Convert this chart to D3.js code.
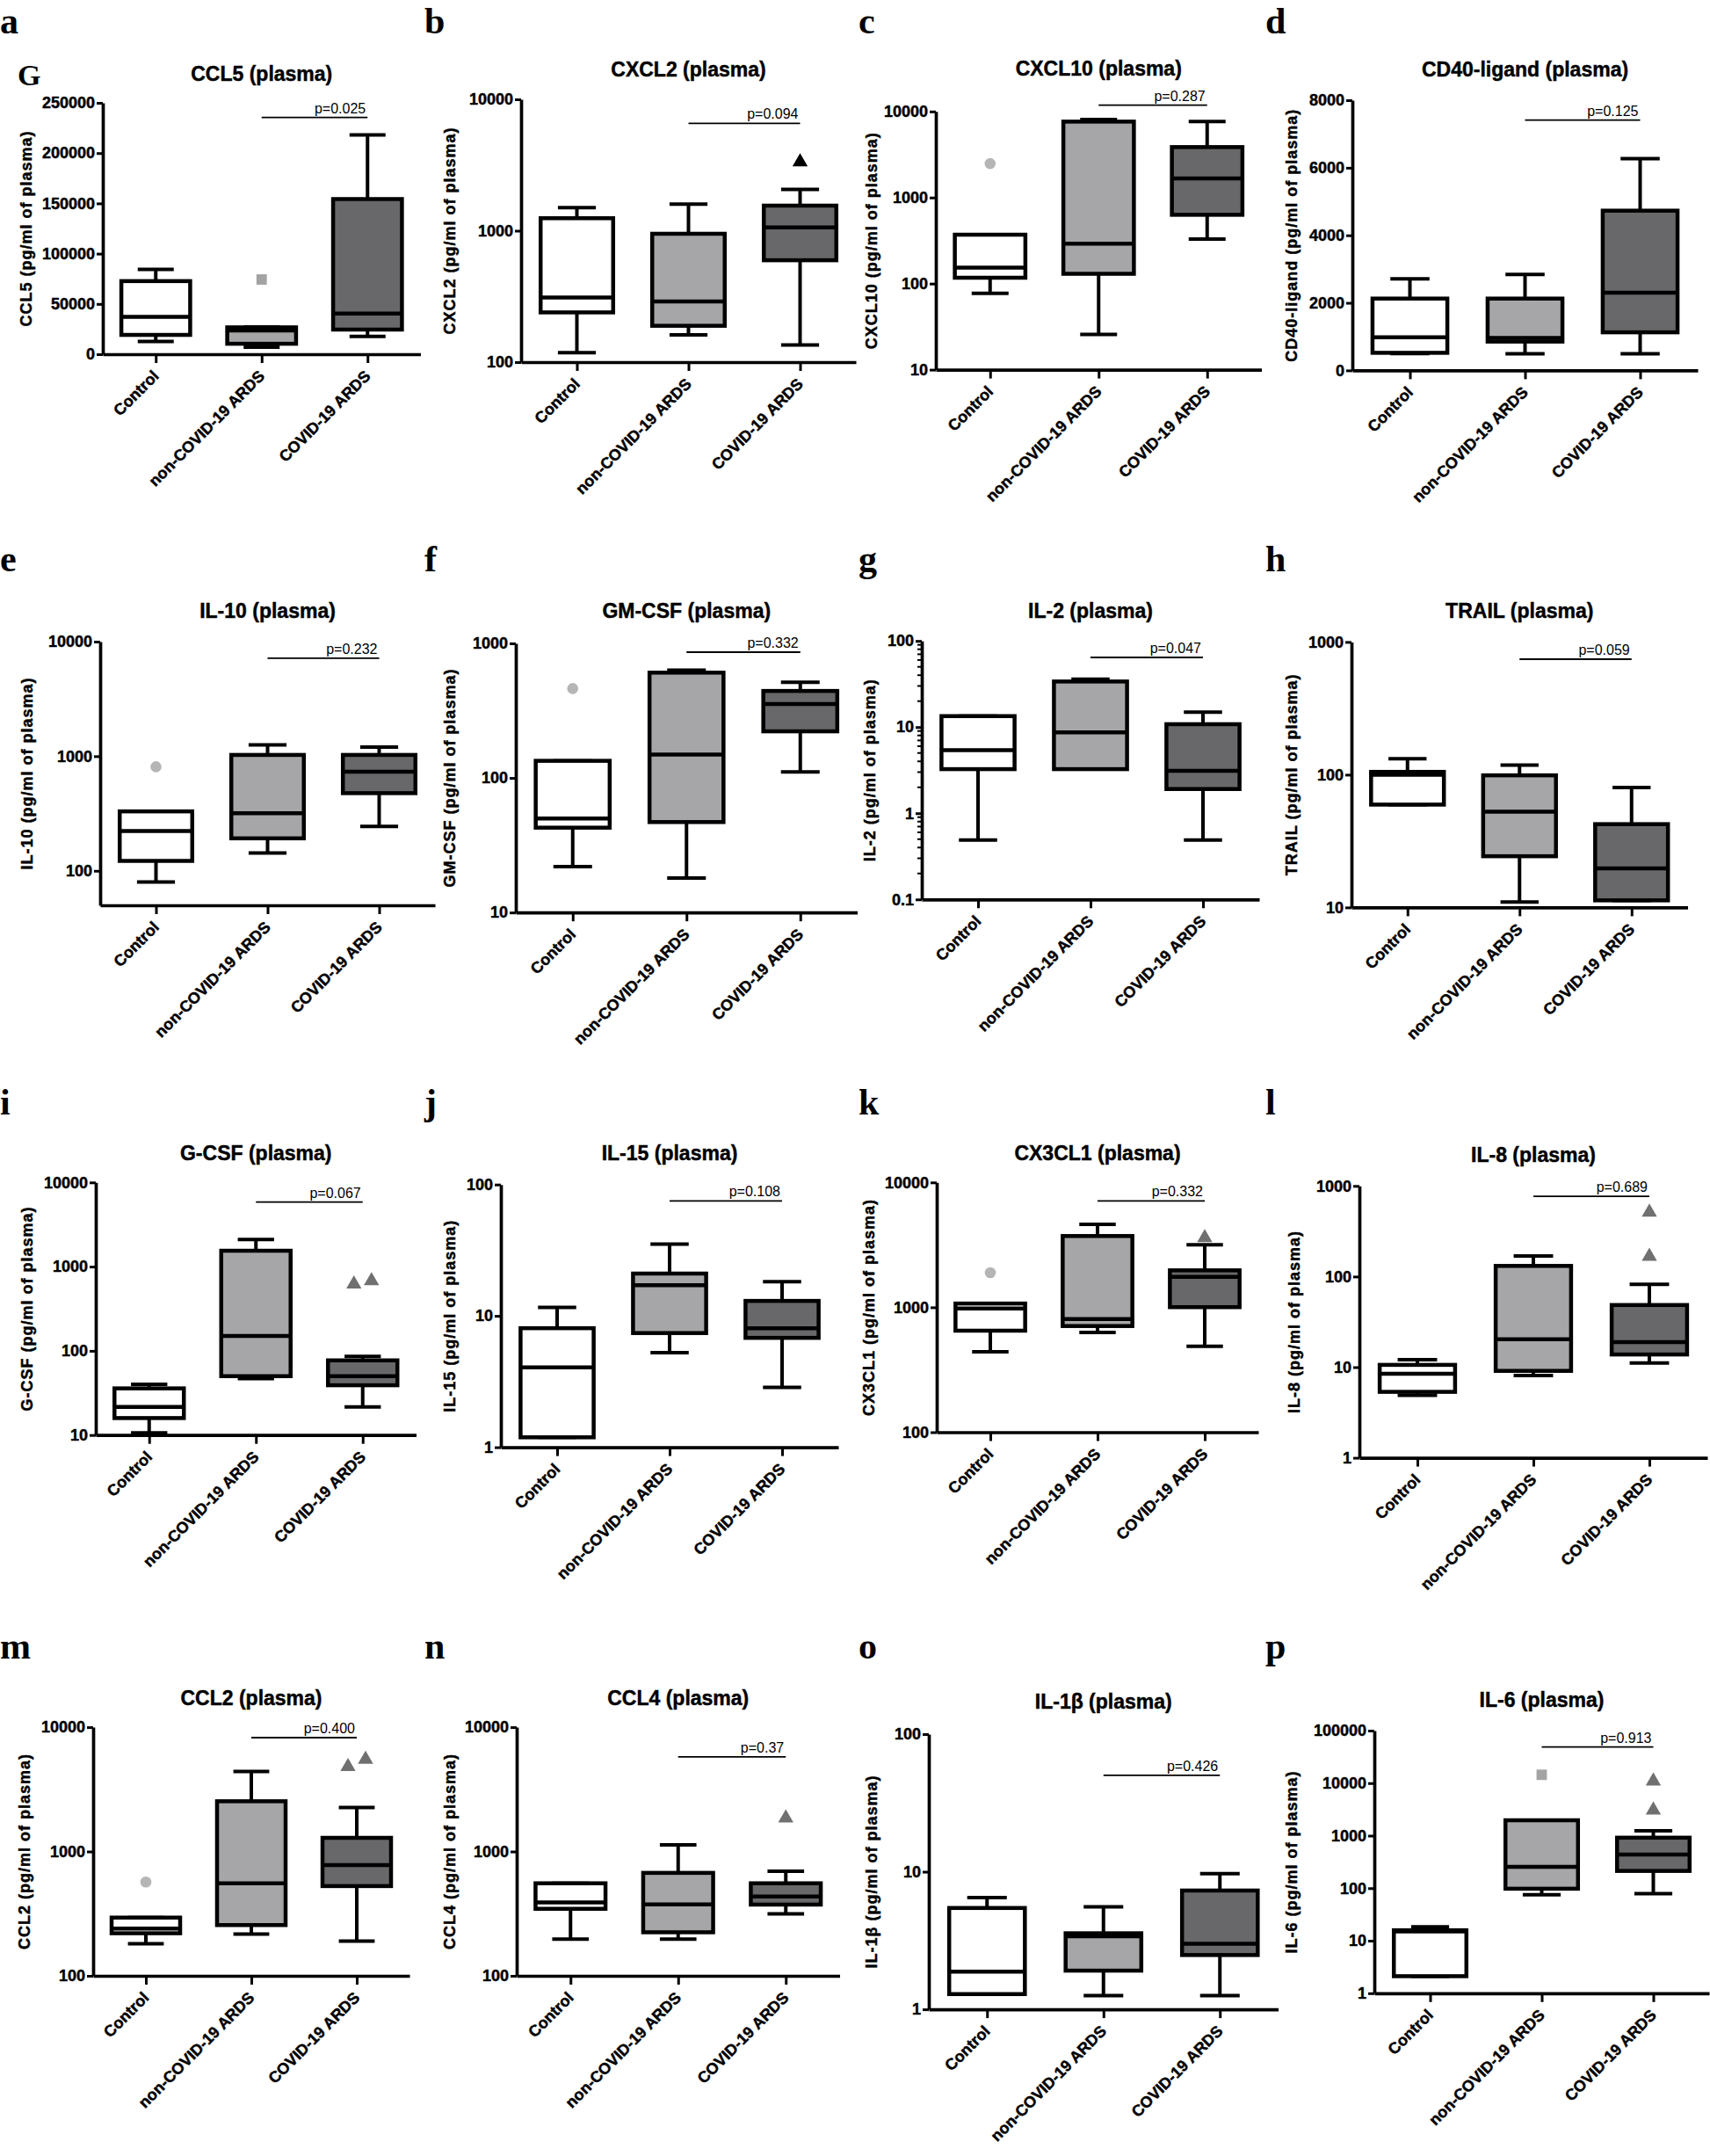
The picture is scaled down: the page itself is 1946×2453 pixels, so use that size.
<!DOCTYPE html>
<html><head><meta charset="utf-8">
<script src="https://cdn.jsdelivr.net/npm/d3@7"></script>
<style>body{margin:0;background:#fff}svg text{font-family:"Liberation Sans",Arial,sans-serif}
.heavy{stroke:#000;stroke-width:0.45px}</style>
</head><body>
<svg id="chart" width="1946" height="2453"></svg>
<script>
// ---------- DATA ----------
const categories = ["Control", "non-COVID-19 ARDS", "COVID-19 ARDS"];
const panelLetters = ["a","b","c","d","e","f","g","h","i","j","k","l","m","n","o","p"];
const analytes = ["CCL5","CXCL2","CXCL10","CD40-ligand","IL-10","GM-CSF","IL-2","TRAIL",
                  "G-CSF","IL-15","CX3CL1","IL-8","CCL2","CCL4","IL-1β","IL-6"];
const pValues = ["p=0.025","p=0.094","p=0.287","p=0.125","p=0.232","p=0.332","p=0.047","p=0.059",
                 "p=0.067","p=0.108","p=0.332","p=0.689","p=0.400","p=0.37","p=0.426","p=0.913"];
const scaleTypes = ["linear","log","log","linear","log","log","log","log",
                    "log","log","log","log","log","log","log","log"];
const domains = [[0,250000],[100,10000],[10,10000],[0,8000],[50,10000],[10,1000],[0.1,100],[10,1000],
                 [10,10000],[1,100],[100,10000],[1,1000],[100,10000],[100,10000],[1,100],[1,100000]];
const tickLabels = [
  [0,50000,100000,150000,200000,250000],[100,1000,10000],[10,100,1000,10000],[0,2000,4000,6000,8000],
  [100,1000,10000],[10,100,1000],[0.1,1,10,100],[10,100,1000],
  [10,100,1000,10000],[1,10,100],[100,1000,10000],[1,10,100,1000],
  [100,1000,10000],[100,1000,10000],[1,10,100],[1,10,100,1000,10000,100000]];

// box stats per group: [low whisker, Q1, median, Q3, high whisker]
const ccl5Stats   = [[12600,19200,37200,72700,84300],[7000,10400,23600,26700,27000],[17800,24500,40500,154300,218000]];
const cxcl2Stats  = [[118,239,310,1245,1497],[161,189,289,948,1596],[135,596,1059,1552,2061]];
const cxcl10Stats = [[77,117,153,370,370],[25.6,130,291,7620,8040],[330,630,1663,3855,7620]];
const cd40lStats  = [[500,520,981,2126,2712],[489,853,960,2126,2839],[489,1127,2300,4729,6267]];
const il10Stats   = [[80,122,222,330,330],[143,192,318,1026,1253],[244,476,731,1026,1202]];
const gmcsfStats  = [[21.9,42.7,50,134,134],[18,47,149,606,632],[111,222,354,443,514]];
const il2Stats    = [[0.49,3.25,5.4,13.4,13.4],[3.25,3.25,8.7,33.8,36],[0.49,1.91,3.1,10.8,14.9]];
const trailStats  = [[59.5,59.5,100,105,132],[11,24.3,52.7,98.9,118],[11.3,11.3,19.7,42.4,80]];
const gcsfStats   = [[10.6,15.9,21.5,35.8,40],[46.8,50,150,1544,2094],[21.5,39,50,77,86]];
const il15Stats   = [[1.19,1.19,4.05,8.06,11.6],[5.25,7.4,17.1,21,35.2],[2.86,6.8,8.06,13,18.2]];
const cx3cl1Stats = [[441,650,978,1072,1072],[630,708,806,3722,4615],[487,1003,1750,1977,3170]];
const il8Stats    = [[4.88,5.34,8.47,10.6,12.1],[8.1,9.1,20.3,131,169],[11.1,13.8,18.9,48.5,82]];
const ccl2Stats   = [[181,220,240,294,294],[217,256,555,2536,4395],[190,527,777,1288,2254]];
const ccl4Stats   = [[197,346,389,555,555],[197,224,376,673,1130],[315,374,434,555,695]];
const il1bStats   = [[1.29,1.29,1.88,5.45,6.49],[1.26,1.91,3.4,3.57,5.55],[1.26,2.48,3.0,7.3,9.67]];
const il6Stats    = [[2.11,2.11,15,15.8,18.4],[75,97.7,256,1963,1963],[78.7,213,438,915,1242]];

// outliers per group [Control, non-COVID, COVID]
const ccl5Out   = [[],[74300],[]];
const cxcl2Out  = [[],[],[3336]];
const cxcl10Out = [[2480],[],[]];
const cd40lOut  = [[],[],[]];
const il10Out   = [[809],[],[]];
const gmcsfOut  = [[462],[],[]];
const il2Out    = [[],[],[]];
const trailOut  = [[],[],[]];
const gcsfOut   = [[],[],[620,680]];
const il15Out   = [[],[],[]];
const cx3cl1Out = [[1892],[],[3606]];
const il8Out    = [[],[],[167,513]];
const ccl2Out   = [[569],[],[4807,5508]];
const ccl4Out   = [[],[],[1858]];
const il1bOut   = [[],[],[]];
const il6Out    = [[],[14420],[3070,10930]];

const allStats = [ccl5Stats,cxcl2Stats,cxcl10Stats,cd40lStats,il10Stats,gmcsfStats,il2Stats,trailStats,
                  gcsfStats,il15Stats,cx3cl1Stats,il8Stats,ccl2Stats,ccl4Stats,il1bStats,il6Stats];
const allOut = [ccl5Out,cxcl2Out,cxcl10Out,cd40lOut,il10Out,gmcsfOut,il2Out,trailOut,
                gcsfOut,il15Out,cx3cl1Out,il8Out,ccl2Out,ccl4Out,il1bOut,il6Out];

// ---------- LAYOUT (pixels) ----------
const layout = [
  {x:117, step:120.5, top:117,   bottom:403,   titleY:92,   ylabX:30,   pY:133.6},
  {x:593, step:127,   top:113,   bottom:412,   titleY:87,   ylabX:512,  pY:140.3},
  {x:1065,step:123.5, top:126.8, bottom:420.6, titleY:86,   ylabX:992,  pY:119.6},
  {x:1539,step:131,   top:114,   bottom:421.4, titleY:87,   ylabX:1470, pY:136.6},
  {x:114, step:127,   top:730,   bottom:1030,  titleY:703,  ylabX:31,   pY:748.8},
  {x:587, step:129.5, top:732,   bottom:1038.2,titleY:703,  ylabX:512,  pY:742},
  {x:1049,step:128,   top:729.2, bottom:1023.3,titleY:703,  ylabX:990,  pY:748, minor:true},
  {x:1538,step:127.5, top:730.4, bottom:1032.4,titleY:703,  ylabX:1470, pY:750},
  {x:109, step:121.5, top:1345.3,bottom:1632.7,titleY:1320, ylabX:31,   pY:1367.6},
  {x:570, step:128,   top:1347.7,bottom:1646.6,titleY:1320, ylabX:512,  pY:1366.4},
  {x:1066,step:122,   top:1345.3,bottom:1629.5,titleY:1320, ylabX:989,  pY:1366.4},
  {x:1547,step:132,   top:1349.3,bottom:1658.6,titleY:1322, ylabX:1473, pY:1361.2},
  {x:106, step:120,   top:1965.1,bottom:2248,  titleY:1940, ylabX:28,   pY:1977},
  {x:588, step:122.5, top:1965.1,bottom:2248,  titleY:1940, ylabX:512,  pY:1998.8},
  {x:1057,step:132.5, top:1973,  bottom:2286.1,titleY:1944, ylabX:992,  pY:2019.9},
  {x:1564,step:127,   top:1969,  bottom:2267.8,titleY:1942, ylabX:1470, pY:1987.7}
];
const letterX = [0, 483, 977, 1440];
const letterY = [38, 650, 1268, 1887];
const fills = ["#ffffff", "#a6a6a9", "#68686b"];
const outColors = ["#b5b5b5", "#a3a3a3", "#707070"];
const FONT = "'Liberation Sans',Arial,sans-serif";
const SERIF = "'Liberation Serif','Times New Roman',serif";

const svg = d3.select("#chart");
svg.append("rect").attr("width",1946).attr("height",2453).attr("fill","#fff");

// panel letters
panelLetters.forEach((l,i)=>{
  svg.append("text").attr("x", letterX[i%4]).attr("y", letterY[Math.floor(i/4)])
    .text(l).style("font-family",SERIF).attr("font-weight","bold").attr("font-size",42);
});
svg.append("text").attr("x",20).attr("y",97).text("G")
  .style("font-family",SERIF).attr("font-weight","bold").attr("font-size",34);

analytes.forEach((name,i)=>{
  const L = layout[i];
  const stats = allStats[i], outs = allOut[i];
  const g = svg.append("g");
  const x = d3.scalePoint().domain(categories).range([L.x, L.x + 3*L.step]).padding(0.5);
  const y = (scaleTypes[i]==="log" ? d3.scaleLog() : d3.scaleLinear()).domain(domains[i]).range([L.bottom, L.top]);
  const bw = L.step*0.65, cw = L.step*0.34;

  categories.forEach((c,k)=>{
    const s = stats[k], cx = x(c);
    const wg = g.append("g").attr("stroke","#000").attr("stroke-width",4);
    wg.append("line").attr("x1",cx).attr("x2",cx).attr("y1",y(s[0])).attr("y2",y(s[1]));
    wg.append("line").attr("x1",cx).attr("x2",cx).attr("y1",y(s[3])).attr("y2",y(s[4]));
    wg.append("line").attr("x1",cx-cw/2).attr("x2",cx+cw/2).attr("y1",y(s[0])).attr("y2",y(s[0]));
    wg.append("line").attr("x1",cx-cw/2).attr("x2",cx+cw/2).attr("y1",y(s[4])).attr("y2",y(s[4]));
    g.append("rect").attr("x",cx-bw/2).attr("y",y(s[3])).attr("width",bw)
      .attr("height",Math.max(1,y(s[1])-y(s[3]))).attr("fill",fills[k])
      .attr("stroke","#000").attr("stroke-width",4.5);
    g.append("line").attr("x1",cx-bw/2).attr("x2",cx+bw/2).attr("y1",y(s[2])).attr("y2",y(s[2]))
      .attr("stroke","#000").attr("stroke-width",4.5);
    // outliers
    const o = outs[k];
    const jitter = (o.length===2 && Math.abs(Math.log10(o[1]/o[0]))<0.15);
    const shape = [d3.symbolCircle, d3.symbolSquare, d3.symbolTriangle][k];
    o.forEach((v,j)=>{
      const dx = jitter ? (j===0?-10:10) : 0;
      g.append("path").attr("d", d3.symbol().type(shape).size(k===0?125:(k===1?140:130))())
        .attr("transform",`translate(${cx+dx},${y(v)})`)
        .attr("fill", (i===1 && k===2) ? "#000" : outColors[k]);
    });
  });

  // y axis
  const yAxis = d3.axisLeft(y).tickValues(tickLabels[i]).tickFormat(d=>String(d)).tickSize(7).tickSizeOuter(0).tickPadding(2);
  const ya = g.append("g").attr("transform",`translate(${L.x},0)`).call(yAxis);
  ya.select(".domain").attr("stroke-width",3.7);
  ya.selectAll(".tick line").attr("stroke-width",3);
  ya.selectAll(".tick text").attr("font-size",18).attr("font-weight","bold").attr("fill","#000")
    .attr("class","heavy").style("font-family",FONT);
  if (L.minor) {
    const minors = [];
    for (let e=-1;e<2;e++) for (let m=2;m<10;m++) minors.push(m*Math.pow(10,e));
    g.append("g").selectAll("line").data(minors).join("line")
      .attr("x1",L.x-5).attr("x2",L.x).attr("y1",d=>y(d)).attr("y2",d=>y(d))
      .attr("stroke","#000").attr("stroke-width",2);
  }

  // x axis
  const xAxis = d3.axisBottom(x).tickSize(10).tickSizeOuter(0);
  const xa = g.append("g").attr("transform",`translate(0,${L.bottom})`).call(xAxis);
  xa.select(".domain").attr("stroke-width",3.7);
  xa.selectAll(".tick line").attr("stroke-width",3);
  xa.selectAll(".tick text").attr("x",0).attr("y",0).attr("dy",0)
    .attr("transform","translate(4,26) rotate(-45)").attr("text-anchor","end")
    .attr("font-size",18).attr("font-weight","bold").attr("fill","#000")
    .attr("class","heavy").style("font-family",FONT);

  // y label
  g.append("text").attr("transform",`translate(${L.ylabX},${(L.top+L.bottom)/2}) rotate(-90)`)
    .attr("text-anchor","middle").attr("dominant-baseline","central")
    .attr("font-size",18).attr("font-weight","bold").attr("letter-spacing",1).attr("class","heavy")
    .text(name + " (pg/ml of plasma)");

  // title
  g.append("text").attr("x",x(categories[1])).attr("y",L.titleY).attr("text-anchor","middle")
    .attr("font-size",23).attr("font-weight","bold").attr("class","heavy").text(name + " (plasma)");

  // significance bar
  g.append("line").attr("x1",x(categories[1])).attr("x2",x(categories[2])).attr("y1",L.pY).attr("y2",L.pY)
    .attr("stroke","#000").attr("stroke-width",1.8);
  g.append("text").attr("x",x(categories[2])-2).attr("y",L.pY-5).attr("text-anchor","end")
    .attr("font-size",16).text(pValues[i]);
});
</script>
</body></html>
